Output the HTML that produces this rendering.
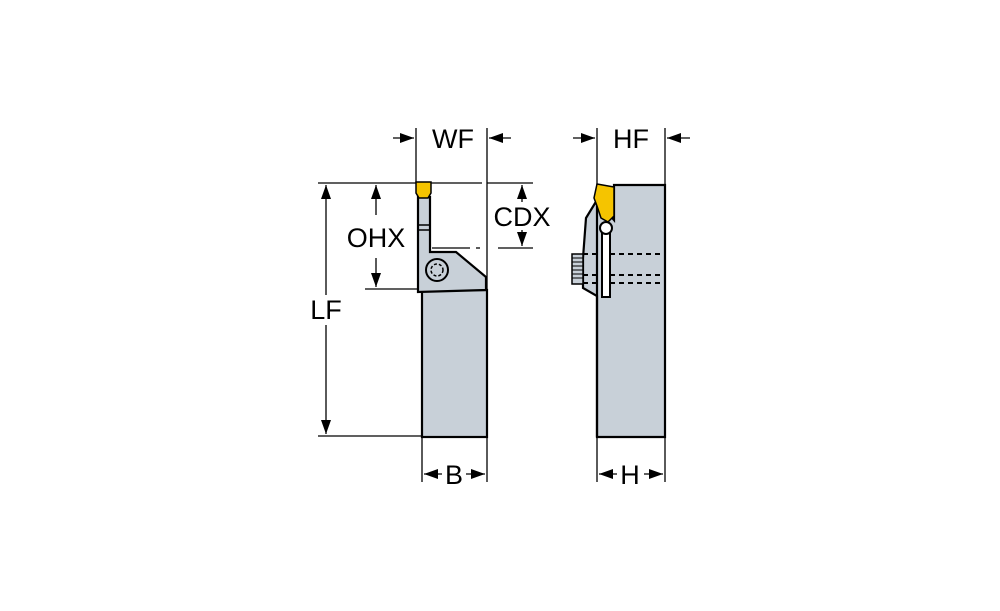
<!DOCTYPE html>
<html><head><style>body{margin:0;background:#fff}svg{display:block}text{font-family:"Liberation Sans",sans-serif;font-size:27px;fill:#000}</style></head><body>
<svg width="1000" height="611" viewBox="0 0 1000 611" xmlns="http://www.w3.org/2000/svg">
<defs><marker id="a" markerWidth="14" markerHeight="10" refX="14" refY="5" orient="auto" markerUnits="userSpaceOnUse"><path d="M0,0 L14,5 L0,10z" fill="#000"/></marker></defs>
<g stroke="#000" stroke-width="1.3" fill="none">
<line x1="318" y1="183" x2="482" y2="183"/>
<line x1="365" y1="289" x2="417" y2="289"/>
<line x1="318" y1="436" x2="422" y2="436"/>
<line x1="416" y1="128" x2="416" y2="183"/>
<line x1="487" y1="128" x2="487" y2="290"/>
<line x1="393" y1="138" x2="414" y2="138" marker-end="url(#a)"/>
<line x1="511" y1="138" x2="489" y2="138" marker-end="url(#a)"/>
<line x1="376" y1="215" x2="376" y2="185" marker-end="url(#a)"/>
<line x1="376" y1="258" x2="376" y2="287" marker-end="url(#a)"/>
<line x1="326" y1="295" x2="326" y2="185" marker-end="url(#a)"/>
<line x1="326" y1="325" x2="326" y2="434" marker-end="url(#a)"/>
<line x1="487" y1="183" x2="533" y2="183"/>
<line x1="498" y1="248" x2="533" y2="248"/>
<line x1="432" y1="248" x2="470" y2="248"/>
<line x1="476" y1="248" x2="480" y2="248"/>
<line x1="522" y1="202" x2="522" y2="185" marker-end="url(#a)"/>
<line x1="522" y1="230" x2="522" y2="246" marker-end="url(#a)"/>
<line x1="422" y1="437" x2="422" y2="482"/>
<line x1="487" y1="437" x2="487" y2="482"/>
<line x1="442" y1="474" x2="424" y2="474" marker-end="url(#a)"/>
<line x1="466" y1="474" x2="485" y2="474" marker-end="url(#a)"/>
<line x1="597" y1="128" x2="597" y2="185"/>
<line x1="665" y1="128" x2="665" y2="185"/>
<line x1="573" y1="138" x2="595" y2="138" marker-end="url(#a)"/>
<line x1="690" y1="138" x2="667" y2="138" marker-end="url(#a)"/>
<line x1="597" y1="437" x2="597" y2="482"/>
<line x1="665" y1="437" x2="665" y2="482"/>
<line x1="617" y1="474" x2="599" y2="474" marker-end="url(#a)"/>
<line x1="644" y1="474" x2="663" y2="474" marker-end="url(#a)"/>
</g>
<g stroke="#000" stroke-width="2.2" fill="#c8d0d8">
<rect x="422" y="290" width="65" height="147"/>
<path d="M418,197 L430,197 L430,252 L456,252 L486,277 L486,290 L418,292 Z"/>
</g>
<line x1="418" y1="225" x2="430" y2="225" stroke="#000" stroke-width="1.5"/>
<line x1="418" y1="230" x2="430" y2="230" stroke="#000" stroke-width="1.5"/>
<path d="M416,182 L431,182 L431,193 L428,198 L419,198 L416,193Z" fill="#f5c400" stroke="#000" stroke-width="1.5"/>
<circle cx="437" cy="270" r="11" fill="#c8d0d8" stroke="#000" stroke-width="2"/>
<circle cx="437" cy="270" r="6" fill="none" stroke="#000" stroke-width="1.5" stroke-dasharray="3 2"/>
<path d="M597,200 L586,218 L583,258 L583,288 L597,296 L597,437 L665,437 L665,185 L614,185 L614,220 Z" fill="#c8d0d8" stroke="#000" stroke-width="2.2"/>
<line x1="597" y1="200" x2="597" y2="437" stroke="#000" stroke-width="2.2"/>
<rect x="572" y="254" width="11" height="30" fill="#c8d0d8" stroke="#000" stroke-width="1.5"/>
<g stroke="#000" stroke-width="1"><line x1="572" y1="258" x2="583" y2="258"/><line x1="572" y1="262" x2="583" y2="262"/><line x1="572" y1="266" x2="583" y2="266"/><line x1="572" y1="270" x2="583" y2="270"/><line x1="572" y1="274" x2="583" y2="274"/><line x1="572" y1="278" x2="583" y2="278"/></g>
<g stroke="#000" stroke-width="2" stroke-dasharray="5 4"><line x1="583" y1="254" x2="663" y2="254"/><line x1="583" y1="275" x2="663" y2="275"/><line x1="583" y1="283" x2="663" y2="283"/></g>
<rect x="602" y="228" width="8" height="69" fill="#fff" stroke="#000" stroke-width="2"/>
<circle cx="606" cy="228" r="6" fill="#fff" stroke="#000" stroke-width="2"/>
<path d="M597,184 L614,187 L614,216 L608,222 L601,218 L597,206 L594,198 Z" fill="#f5c400" stroke="#000" stroke-width="1.5"/>
<text x="453" y="148" text-anchor="middle">WF</text>
<text x="376" y="247" text-anchor="middle">OHX</text>
<text x="326" y="319" text-anchor="middle">LF</text>
<text x="522" y="226" text-anchor="middle">CDX</text>
<text x="454" y="484" text-anchor="middle">B</text>
<text x="631" y="148" text-anchor="middle">HF</text>
<text x="630" y="484" text-anchor="middle">H</text>
</svg>
</body></html>
